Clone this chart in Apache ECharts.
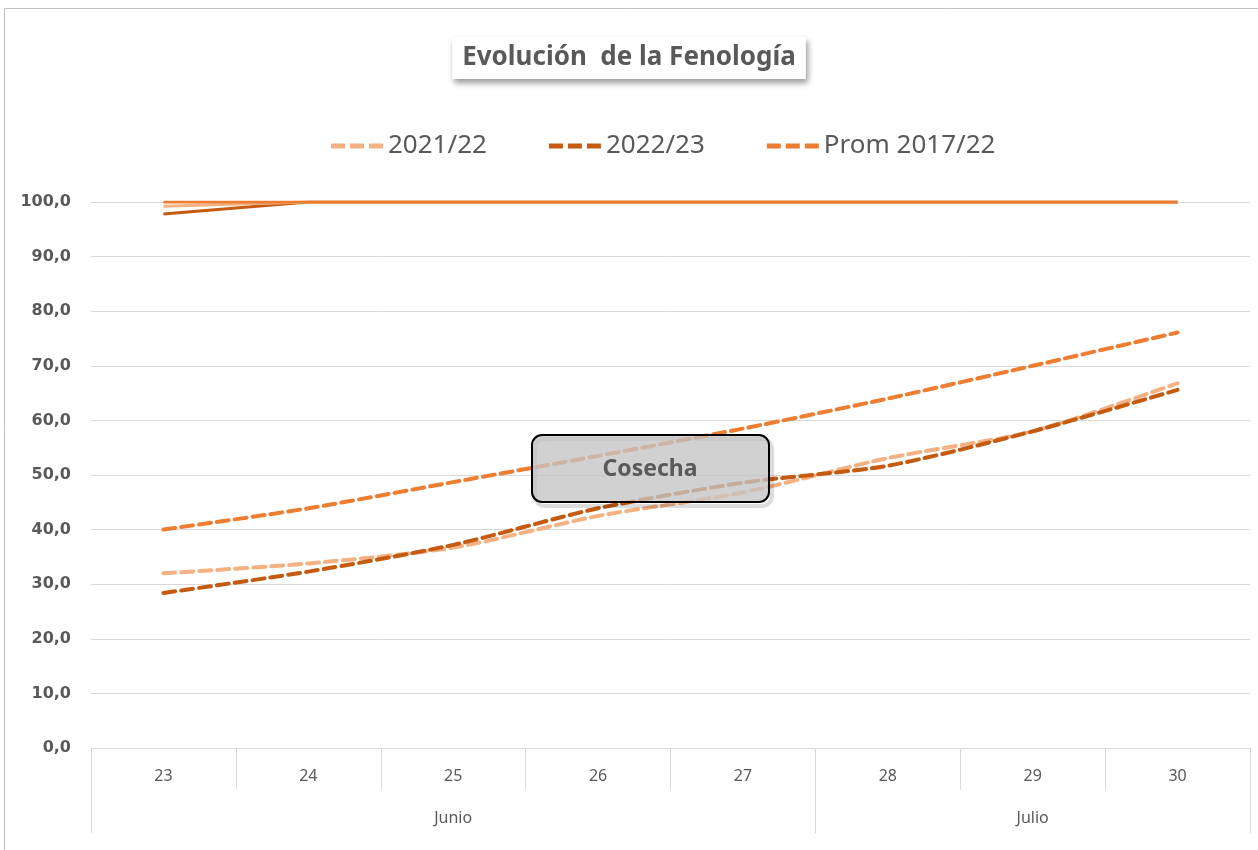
<!DOCTYPE html>
<html>
<head>
<meta charset="utf-8">
<title>Evolución de la Fenología</title>
<script src="https://cdn.jsdelivr.net/npm/echarts@6/dist/echarts.min.js"></script>
<style>
  html, body { margin: 0; padding: 0; background: #fff; }
  #chart { width: 1258px; height: 850px; }
</style>
</head>
<body>
<div id="chart"></div>
<script>
// dias y meses del eje x
const days = ['23', '24', '25', '26', '27', '28', '29', '30'];
const monthOfDay = ['Junio', 'Junio', 'Junio', 'Junio', 'Junio', 'Julio', 'Julio', 'Julio'];

// fenologia (%), lineas punteadas
const s2021 = [32.0, 33.8, 36.7, 42.5, 46.8, 53.1, 58.0, 66.8];
const s2022 = [28.4, 32.3, 37.2, 43.9, 48.6, 51.7, 58.0, 65.6];
const prom = [40.0, 43.9, 48.7, 53.5, 58.5, 64.0, 70.0, 76.1];

// lineas continuas arriba (acumulado)
const s2021Top = [99.2, 100, 100, 100, 100, 100, 100, 100];
const s2022Top = [97.8, 100, 100, 100, 100, 100, 100, 100];
const promTop = [100, 100, 100, 100, 100, 100, 100, 100];

const gray = '#595959';
const gridGray = '#d9d9d9';
const cLight = '#F4B183';
const cDark = '#C55A11';
const cMid = '#ED7D31';

// icono de leyenda: tres guiones
const dashIcon = 'path://M0,0h14v5h-14z M19,0h14v5h-14z M38,0h14v5h-14z';

// grupos de meses para el segundo nivel del eje
const groups = [];
monthOfDay.forEach(function (m, i) {
  const last = groups[groups.length - 1];
  if (last && last.name === m) {
    last.end = i + 1;
  } else {
    groups.push({name: m, start: i, end: i + 1});
  }
});
const monthTicks = groups.map(function (g) { return g.start; }).concat([days.length]);
const monthMids = groups.map(function (g) { return (g.start + g.end) / 2; });

const chart = echarts.init(document.getElementById('chart'));

function dashed(name, data, color) {
  return {
    name: name,
    type: 'line',
    data: data,
    symbol: 'none',
    smooth: 0.25,
    lineStyle: {color: color, width: 4, type: [12, 6], cap: 'round'},
    itemStyle: {color: color}
  };
}
function solid(name, data, color) {
  return {
    name: name,
    type: 'line',
    data: data,
    symbol: 'none',
    lineStyle: {color: color, width: 3},
    itemStyle: {color: color}
  };
}

const option = {
  animation: false,
  backgroundColor: '#fff',
  textStyle: {fontFamily: 'Noto Sans'},
  title: {
    text: 'Evolución  de la Fenología',
    left: 'center',
    top: 37,
    padding: [8, 10, 8, 10],
    backgroundColor: '#fff',
    shadowColor: 'rgba(0,0,0,0.4)',
    shadowBlur: 6,
    shadowOffsetX: 2,
    shadowOffsetY: 4,
    textStyle: {fontFamily: 'Noto Sans', fontSize: 26, fontWeight: 'bold', color: gray}
  },
  legend: {
    data: ['2021/22', '2022/23', 'Prom 2017/22'],
    icon: dashIcon,
    left: 326,
    top: 128,
    itemWidth: 52,
    itemHeight: 5,
    itemGap: 62,
    textStyle: {fontFamily: 'Noto Sans', fontSize: 26, color: gray}
  },
  grid: {left: 91, right: 8, top: 202, bottom: 102, containLabel: false},
  xAxis: [{
    type: 'category',
    data: days,
    boundaryGap: true,
    axisLine: {lineStyle: {color: gridGray}},
    axisTick: {show: true, interval: 0, length: 42, lineStyle: {color: gridGray}},
    axisLabel: {interval: 0, margin: 20, fontSize: 16, color: gray, fontFamily: 'Noto Sans'},
    splitLine: {show: false}
  }, {
    type: 'value',
    position: 'bottom',
    min: 0,
    max: days.length,
    axisLine: {show: false},
    splitLine: {show: false},
    axisTick: {show: true, customValues: monthTicks, length: 85, lineStyle: {color: gridGray}},
    axisLabel: {
      customValues: monthMids,
      margin: 62,
      fontSize: 16,
      color: gray,
      fontFamily: 'Noto Sans',
      formatter: function (v) {
        const g = groups.find(function (gr) { return Math.abs((gr.start + gr.end) / 2 - v) < 1e-6; });
        return g ? g.name : '';
      }
    }
  }],
  yAxis: {
    type: 'value',
    min: 0,
    max: 100,
    interval: 10,
    axisLine: {show: false},
    axisTick: {show: false},
    splitLine: {lineStyle: {color: gridGray}},
    axisLabel: {
      margin: 20,
      fontFamily: 'DejaVu Sans',
      fontWeight: 'bold',
      fontSize: 16,
      color: gray,
      formatter: function (v) { return v.toFixed(1).replace('.', ','); }
    }
  },
  series: [
    solid('acum 2022/23', s2022Top, cDark),
    solid('acum 2021/22', s2021Top, cLight),
    solid('acum Prom 2017/22', promTop, cMid),
    dashed('2021/22', s2021, cLight),
    dashed('2022/23', s2022, cDark),
    dashed('Prom 2017/22', prom, cMid)
  ],
  graphic: [{
    type: 'rect',
    shape: {x: 4.5, y: 8.5, width: 1300, height: 900},
    style: {fill: 'none', stroke: '#bfbfbf', lineWidth: 1},
    silent: true
  }, {
    type: 'group',
    left: 531,
    top: 434,
    children: [{
      // sombra del recuadro
      type: 'rect',
      z: 100,
      shape: {x: 3, y: 4, width: 237, height: 67, r: 10},
      style: {fill: 'none', stroke: 'rgba(0,0,0,0.12)', lineWidth: 4, shadowBlur: 5, shadowColor: 'rgba(0,0,0,0.25)'}
    }, {
      type: 'rect',
      z: 101,
      shape: {x: 0, y: 0, width: 237, height: 67, r: 10},
      style: {fill: 'rgba(196,196,196,0.78)', stroke: '#000', lineWidth: 2}
    }, {
      type: 'text',
      z: 102,
      x: 118,
      y: 34,
      style: {
        text: 'Cosecha',
        fontFamily: 'Noto Sans',
        fontSize: 23,
        fontWeight: 'bold',
        fill: gray,
        align: 'center',
        verticalAlign: 'middle'
      }
    }]
  }]
};

chart.setOption(option);
</script>
</body>
</html>
